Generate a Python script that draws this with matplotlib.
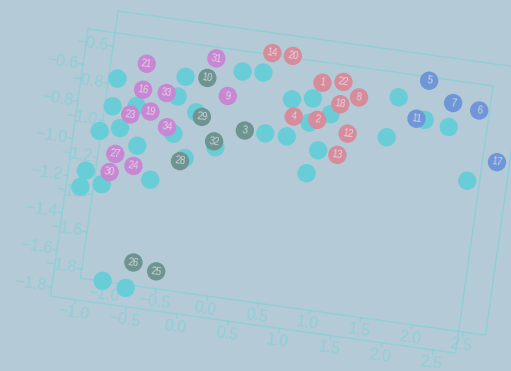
import numpy as np
import matplotlib.pyplot as plt
from matplotlib.transforms import Affine2D

# Nodos numerados: posicion (x, y) y grupo al que pertenecen
nodo_id = [1, 2, 3, 4, 5, 6, 7, 8, 9, 10, 11, 12, 13, 14, 16, 17,
           18, 19, 20, 21, 22, 23, 24, 25, 26, 27, 28, 29, 30, 31, 32, 33, 34]
nodo_x = [1.08, 1.08, 0.40, 0.85, 2.10, 2.62, 2.36, 1.45, 0.19, -0.03, 2.03,
          1.39, 1.32, 0.56, -0.63, 2.86, 1.28, -0.53, 0.76, -0.63, 1.28, -0.72,
          -0.62, -0.26, -0.49, -0.81, -0.18, -0.03, -0.84, 0.03, 0.12, -0.40, -0.35]
nodo_y = [-0.52, -0.72, -0.83, -0.72, -0.43, -0.55, -0.53, -0.57, -0.66, -0.58,
          -0.64, -0.77, -0.89, -0.40, -0.69, -0.81, -0.62, -0.80, -0.40, -0.55,
          -0.50, -0.83, -1.10, -1.64, -1.61, -1.05, -1.04, -0.79, -1.15, -0.47,
          -0.91, -0.69, -0.87]
nodo_grupo = ['r', 'r', 'g', 'r', 'b', 'b', 'b', 'r', 'p', 'g', 'b', 'r', 'r',
              'r', 'p', 'b', 'r', 'p', 'r', 'p', 'r', 'p', 'p', 'g', 'g', 'p',
              'g', 'g', 'p', 'p', 'g', 'p', 'p']

# Segunda serie, sin numerar
otros_x = [0.30, 0.50, -0.24, -0.89, -0.29, -0.90, -0.67, -0.09, -0.28, -0.99,
           -0.80, 0.14, -0.61, -0.14, -1.07, -0.44, -1.10, -0.90, -0.76, -0.53,
           0.81, 1.01, 1.01, 1.20, 0.60, 0.81, 1.13, 1.05, 1.83, 2.11, 2.35,
           1.77, 2.60]
otros_y = [-0.52, -0.51, -0.59, -0.65, -0.70, -0.80, -0.78, -0.77, -0.90, -0.94,
           -0.91, -0.94, -0.99, -1.02, -1.16, -1.16, -1.25, -1.22, -1.73, -1.75,
           -0.63, -0.61, -0.74, -0.68, -0.83, -0.83, -0.88, -1.01, -0.54, -0.64,
           -0.66, -0.76, -0.93]

xticks = [-1.0, -0.5, 0.0, 0.5, 1.0, 1.5, 2.0, 2.5]
yticks = [-0.6, -0.8, -1.0, -1.2, -1.4, -1.6, -1.8]

colores = {'r': '#d78c9b', 'p': '#c887d2', 'b': '#6f97d7', 'g': '#6e9491'}
c_otros = '#69cdd7'
c_eje = '#82d1d9'
fondo = '#b4cad6'
fuente = ['Liberation Sans', 'DejaVu Sans']

xmin, xmax = -1.24, 2.72
ymin, ymax = -1.85, -0.41
px_x, px_y = 103.3, 187.4     # pixeles por unidad
angulo = 8                    # giro del grafico en grados

fig = plt.figure(figsize=(5.11, 3.71), dpi=100)
fig.patch.set_facecolor(fondo)
ax = fig.add_axes([0, 0, 1, 1])
ax.set_xlim(0, 511)
ax.set_ylim(371, 0)
ax.axis('off')
ax.set_facecolor(fondo)


def marco(x0, y0):
    # Transformacion datos -> pixeles, girada y desplazada
    return (Affine2D().translate(-xmin, -ymax).scale(px_x, -px_y)
            .rotate_deg(angulo).translate(x0, y0) + ax.transData)


def etiqueta(v):
    return ('%.1f' % v).replace('-', '\u2212')


def dibujar_marco(tr):
    ax.plot([xmin, xmax, xmax, xmin, xmin], [ymax, ymax, ymin, ymin, ymax],
            color=c_eje, lw=1, alpha=0.75, transform=tr)
    for xt in xticks:
        ax.plot([xt, xt], [ymin, ymin - 4 / px_y], color=c_eje, lw=1,
                alpha=0.75, transform=tr)
        ax.text(xt, ymin - 13 / px_y, etiqueta(xt), transform=tr,
                rotation=-angulo, rotation_mode='anchor', ha='center',
                va='center', fontsize=11.5, family=fuente, color=c_eje,
                alpha=0.75)
    for yt in yticks:
        ax.plot([xmin, xmin - 4 / px_x], [yt, yt], color=c_eje, lw=1,
                alpha=0.75, transform=tr)
        ax.text(xmin - 5 / px_x, yt, etiqueta(yt), transform=tr,
                rotation=-angulo, rotation_mode='anchor', ha='right',
                va='center', fontsize=11.5, family=fuente, color=c_eje,
                alpha=0.75)


tr1 = marco(88, 29)
tr2 = marco(118, 11)
dibujar_marco(tr1)
dibujar_marco(tr2)

# Puntos sin numerar
ax.scatter(otros_x, otros_y, s=175, color=c_otros, edgecolors='none',
           transform=tr1, zorder=3)

# Nodos numerados encima
ax.scatter(nodo_x, nodo_y, s=175, color=[colores[g] for g in nodo_grupo],
           edgecolors='none', transform=tr1, zorder=4)
for i, x, y in zip(nodo_id, nodo_x, nodo_y):
    ax.text(x, y, str(i), transform=tr1, ha='center', va='center',
            rotation=-angulo, fontsize=7, family=fuente, color='#ece6ee',
            alpha=0.75, zorder=5)

plt.savefig('out.png', dpi=100, facecolor=fondo)
